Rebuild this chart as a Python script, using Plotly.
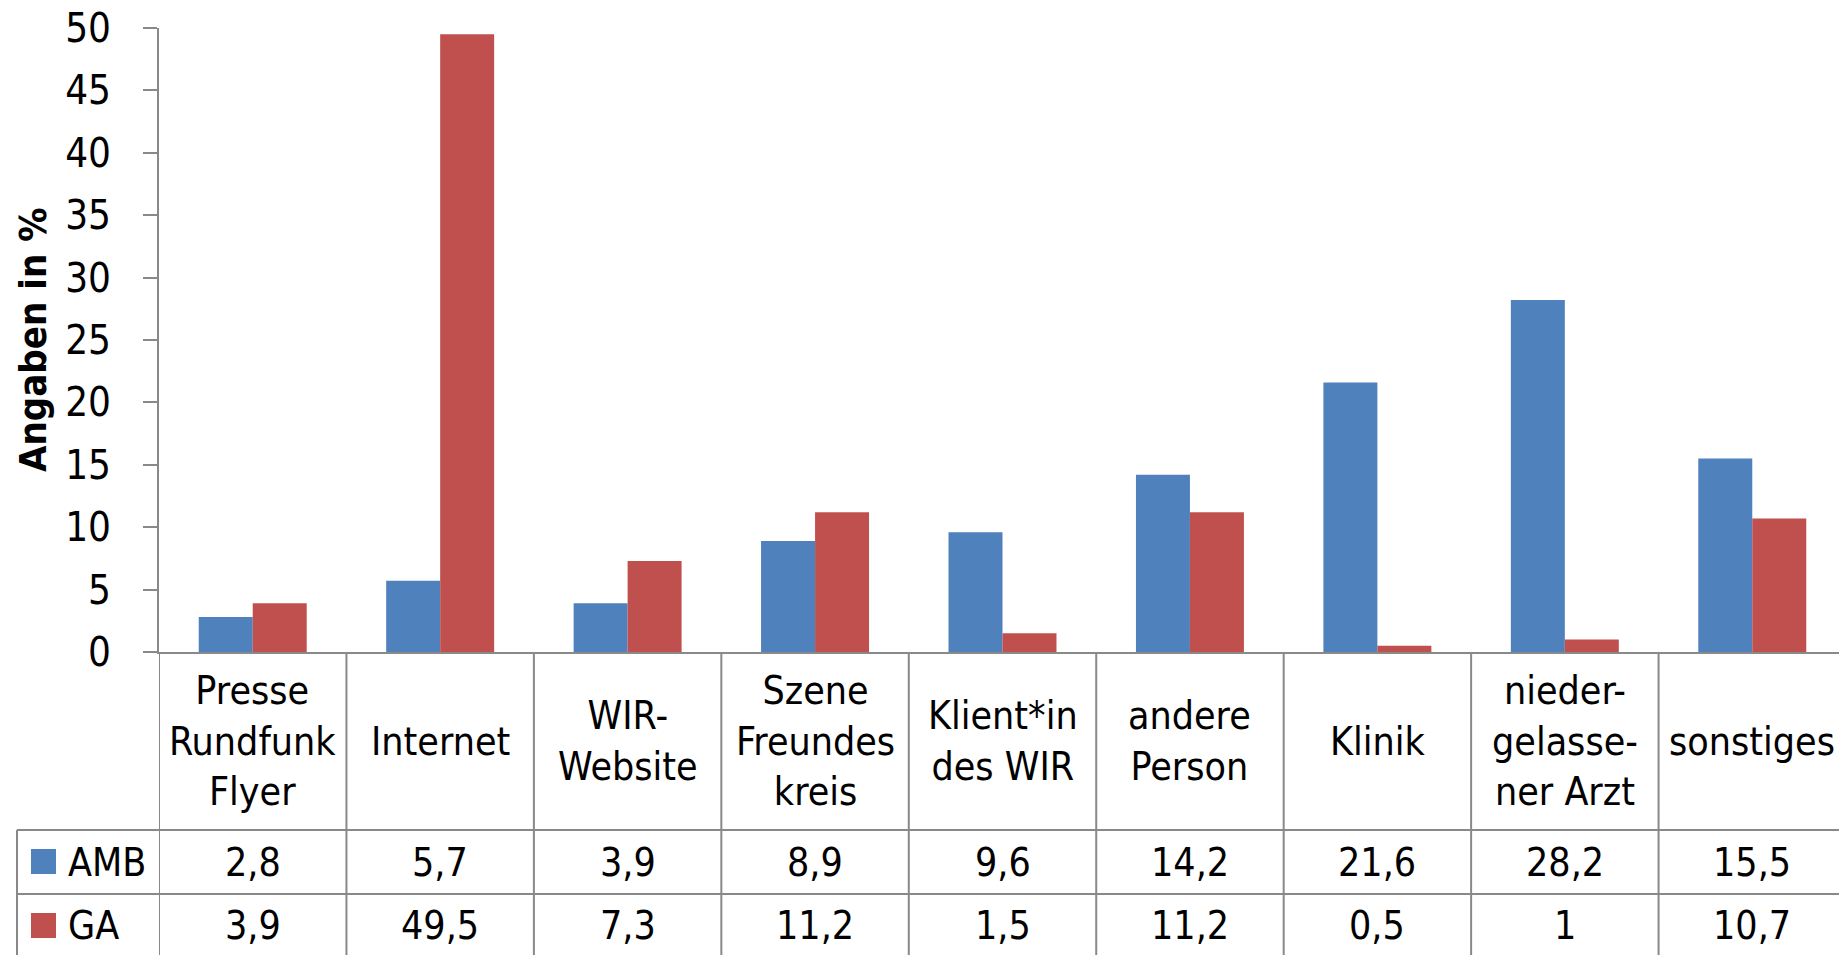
import plotly.graph_objects as go

categories = ["Presse<br>Rundfunk<br>Flyer", "Internet", "WIR-<br>Website",
              "Szene<br>Freundes<br>kreis", "Klient*in<br>des WIR", "andere<br>Person",
              "Klinik", "nieder-<br>gelasse-<br>ner Arzt", "sonstiges"]
series_names = ["AMB", "GA"]
amb = [2.8, 5.7, 3.9, 8.9, 9.6, 14.2, 21.6, 28.2, 15.5]
ga = [3.9, 49.5, 7.3, 11.2, 1.5, 11.2, 0.5, 1.0, 10.7]
y_ticks = [0, 5, 10, 15, 20, 25, 30, 35, 40, 45, 50]
y_title = "Angaben in %"

colors = ["#4F81BD", "#C0504D"]
OFF = 8  # page body margin
W, H = 1847 - OFF, 955 - OFF
ML, MR, MT, MB = 159 - OFF, 1, 28 - OFF, 303
PW, PH = W - ML - MR, H - MT - MB
FONT = "Liberation Sans Narrow, Arial Narrow, DejaVu Sans Condensed, sans-serif"
GRID = "#898989"
FS = 39


def px_x(p):
    return (p - OFF - ML) / PW


def px_y(p):
    return (H - MB - (p - OFF)) / PH


def fmt(v):
    return f"{v:g}".replace(".", ",")


fig = go.Figure()
for name, vals, col in zip(series_names, [amb, ga], colors):
    fig.add_trace(go.Bar(x=categories, y=vals, name=name, marker_color=col,
                         marker_line_width=0, showlegend=False))

shapes = []
annotations = []

# table grid
bottom = px_y(965)
for i in range(len(categories)):
    shapes.append(dict(type="line", xref="x", yref="paper", x0=i - 0.5, x1=i - 0.5,
                       y0=0, y1=bottom, line=dict(color=GRID, width=2)))
shapes.append(dict(type="line", xref="paper", yref="paper", x0=px_x(17), x1=px_x(17),
                   y0=px_y(830), y1=bottom, line=dict(color=GRID, width=2)))
for yp in [830, 894]:
    shapes.append(dict(type="line", xref="paper", yref="paper", x0=px_x(17), x1=1.0,
                       y0=px_y(yp), y1=px_y(yp), line=dict(color=GRID, width=2)))

# category labels
for c in categories:
    annotations.append(dict(x=c, xref="x", y=px_y(741), yref="paper", text=c,
                            showarrow=False, xanchor="center", yanchor="middle",
                            font=dict(family=FONT, size=FS, color="black")))

# value rows
row_y = [862, 925]
key_y = [(849, 874), (913, 938)]
for name, vals, col, ry, (k0, k1) in zip(series_names, [amb, ga], colors, row_y, key_y):
    for c, v in zip(categories, vals):
        annotations.append(dict(x=c, xref="x", y=px_y(ry), yref="paper", text=fmt(v),
                                showarrow=False, xanchor="center", yanchor="middle",
                                font=dict(family=FONT, size=FS, color="black")))
    shapes.append(dict(type="rect", xref="paper", yref="paper", x0=px_x(31), x1=px_x(56),
                       y0=px_y(k1), y1=px_y(k0), fillcolor=col, line=dict(width=0)))
    annotations.append(dict(x=px_x(66), xref="paper", y=px_y(ry), yref="paper", text=name,
                            showarrow=False, xanchor="left", yanchor="middle",
                            font=dict(family=FONT, size=FS, color="black")))

# y-axis title
annotations.append(dict(x=px_x(33), xref="paper", y=0.5, yref="paper", text=f"<b>{y_title}</b>",
                        textangle=-90, showarrow=False, xanchor="center", yanchor="middle",
                        font=dict(family=FONT, size=38, color="black")))

fig.update_layout(
    width=W, height=H,
    margin=dict(l=ML, r=MR, t=MT, b=MB, pad=0, autoexpand=False),
    paper_bgcolor="white", plot_bgcolor="white",
    barmode="group", bargap=0.424, bargroupgap=0,
    shapes=shapes, annotations=annotations,
    font=dict(family=FONT, size=FS, color="black"),
)
fig.update_xaxes(type="category", range=[-0.5, len(categories) - 0.5], showticklabels=False,
                 showline=True, linecolor=GRID, linewidth=2, ticks="", showgrid=False,
                 zeroline=False, automargin=False)
fig.update_yaxes(range=[0, 50], tickvals=y_ticks, ticktext=[str(t) for t in y_ticks],
                 showline=True, linecolor=GRID, linewidth=2, ticks="outside", ticklen=14,
                 tickwidth=2, tickcolor=GRID, showgrid=False, zeroline=False,
                 ticklabelstandoff=24, ticklabeloverflow="allow", automargin=False,
                 tickfont=dict(family=FONT, size=40, color="black"))

fig.write_html("out.html")
